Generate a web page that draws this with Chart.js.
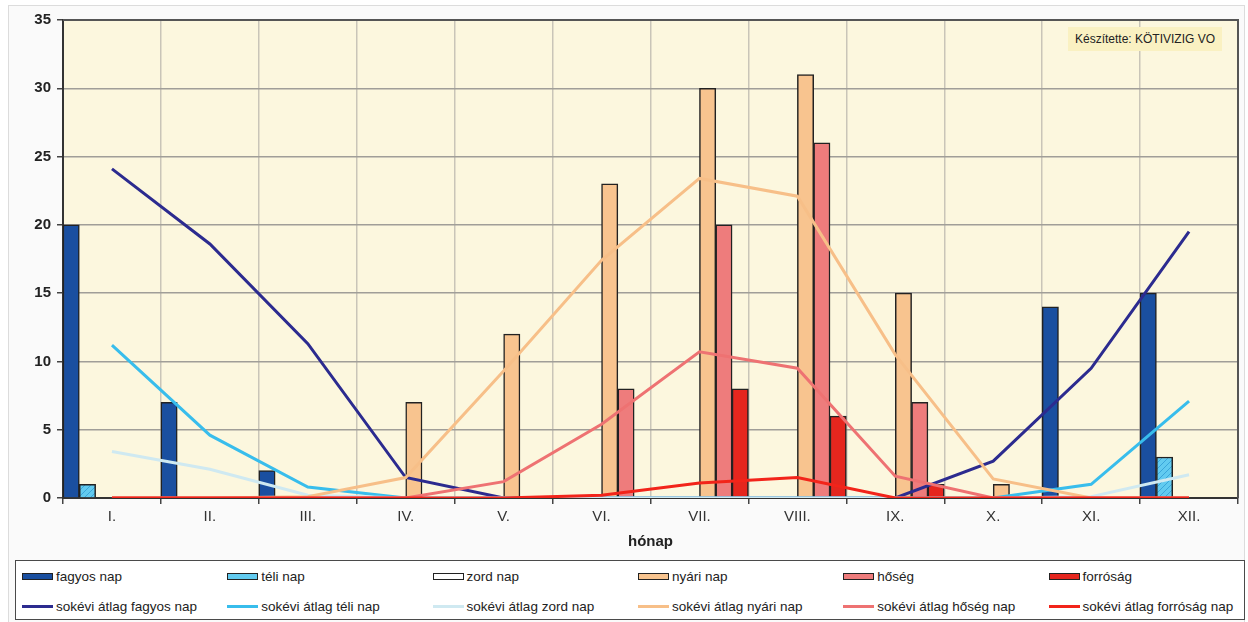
<!DOCTYPE html>
<html lang="hu">
<head>
<meta charset="utf-8">
<title>Fagyos és nyári napok</title>
<script src="https://cdn.jsdelivr.net/npm/chart.js@4"></script>
<style>
  html, body { margin: 0; padding: 0; background: #fff; }
  body { width: 1248px; height: 622px; position: relative; overflow: hidden;
         font-family: 'Liberation Sans', Arial, sans-serif; }
  #frame { position: absolute; left: 8px; top: 5px; width: 1235px; height: 630px;
           border: 1px solid #dcdcdc; background: #fafafa; }
  #wrap { position: absolute; left: 0; top: 0; width: 1248px; height: 560px; }
  #credit { position: absolute; left: 1068px; top: 27px; width: 154px; height: 24px;
            background: #faf1c2; font-size: 12px; color: #222; line-height: 24px;
            text-align: center; }
  #legend { position: absolute; left: 15px; top: 560px; width: 1228px; height: 58px;
            border: 1.5px solid #4a4a4a; background: #fff; }
  .item { position: absolute; display: flex; align-items: center; font-size: 13.5px;
          color: #222; white-space: nowrap; }
  .sw { width: 31px; margin-right: 3px; box-sizing: border-box; }
</style>
</head>
<body>
<div id="frame"></div>
<div id="wrap"><canvas id="chart" width="1248" height="560"></canvas></div>
<div id="credit">Készítette: KÖTIVIZIG VO</div>
<div id="legend"></div>

<script>
(function () {
  'use strict';

  /* ---------- Data ---------- */
  const months = ['I.', 'II.', 'III.', 'IV.', 'V.', 'VI.', 'VII.', 'VIII.', 'IX.', 'X.', 'XI.', 'XII.'];

  const fagyosNap = [20, 7, 2, 0, 0, 0, 0, 0, 0, 0, 14, 15];
  const teliNap   = [1, 0, 0, 0, 0, 0, 0, 0, 0, 0, 0, 3];
  const zordNap   = [0, 0, 0, 0, 0, 0, 0, 0, 0, 0, 0, 0];
  const nyariNap  = [0, 0, 0, 7, 12, 23, 30, 31, 15, 1, 0, 0];
  const hoseg     = [0, 0, 0, 0, 0, 8, 20, 26, 7, 0, 0, 0];
  const forrosag  = [0, 0, 0, 0, 0, 0, 8, 6, 1, 0, 0, 0];

  const atlagFagyos   = [24.1, 18.6, 11.3, 1.5, 0, 0, 0, 0, 0, 2.7, 9.5, 19.5];
  const atlagTeli     = [11.2, 4.6, 0.8, 0, 0, 0, 0, 0, 0, 0, 1.0, 7.1];
  const atlagZord     = [3.4, 2.1, 0.2, 0, 0, 0, 0, 0, 0, 0, 0.1, 1.7];
  const atlagNyari    = [0, 0, 0.1, 1.5, 9.3, 17.4, 23.4, 22.1, 10.5, 1.4, 0, 0];
  const atlagHoseg    = [0, 0, 0, 0, 1.2, 5.4, 10.7, 9.5, 1.6, 0, 0, 0];
  const atlagForrosag = [0, 0, 0, 0, 0, 0.2, 1.1, 1.5, 0, 0, 0, 0];

  const yTicks = [0, 5, 10, 15, 20, 25, 30, 35];

  /* ---------- Hatch for téli nap ---------- */
  function hatch() {
    const c = document.createElement('canvas');
    c.width = 6; c.height = 6;
    const g = c.getContext('2d');
    g.fillStyle = '#62cbf0';
    g.fillRect(0, 0, 6, 6);
    g.strokeStyle = '#3aa6da';
    g.lineWidth = 1;
    g.beginPath();
    g.moveTo(0, 6); g.lineTo(6, 0);
    g.moveTo(-1, 1); g.lineTo(1, -1);
    g.moveTo(5, 7); g.lineTo(7, 5);
    g.stroke();
    return g.createPattern(c, 'repeat');
  }

  const bar = (label, data, color, swatch) => ({
    type: 'bar', label, data, backgroundColor: color, swatch: swatch || color,
    borderColor: '#222', borderWidth: 1.5, borderSkipped: 'bottom', order: 20,
    categoryPercentage: 1, barPercentage: 1,
  });
  const line = (label, data, color, order) => ({
    type: 'line', label, data, borderColor: color, backgroundColor: color,
    borderWidth: 3, pointRadius: 0, tension: 0, fill: false, order,
  });

  const datasets = [
    bar('fagyos nap', fagyosNap, '#1a4fa0'),
    bar('téli nap', teliNap, hatch(), '#62cbf0'),
    bar('zord nap', zordNap, '#ffffff'),
    bar('nyári nap', nyariNap, '#f8c48f'),
    bar('hőség', hoseg, '#ee7c7c'),
    bar('forróság', forrosag, '#e5261e'),
    line('sokévi átlag fagyos nap', atlagFagyos, '#2c2b8f', 6),
    line('sokévi átlag téli nap', atlagTeli, '#38bdec', 5),
    line('sokévi átlag zord nap', atlagZord, '#cfe9f1', 4),
    line('sokévi átlag nyári nap', atlagNyari, '#f7bf88', 3),
    line('sokévi átlag hőség nap', atlagHoseg, '#ee7272', 2),
    line('sokévi átlag forróság nap', atlagForrosag, '#f2241a', 1),
  ];

  /* ---------- Plot frame: background + top/right border ---------- */
  const plotFrame = {
    id: 'plotFrame',
    beforeDraw(chart) {
      const { ctx, chartArea: a } = chart;
      ctx.save();
      ctx.fillStyle = '#fcf7de';
      ctx.fillRect(a.left, a.top, a.right - a.left, a.bottom - a.top);
      ctx.restore();
    },
    afterDraw(chart) {
      const { ctx, chartArea: a } = chart;
      ctx.save();
      ctx.strokeStyle = '#555';
      ctx.lineWidth = 2;
      ctx.beginPath();
      ctx.moveTo(a.left, a.top);
      ctx.lineTo(a.right, a.top);
      ctx.lineTo(a.right, a.bottom);
      ctx.stroke();
      ctx.restore();
    },
  };

  const chart = new Chart(document.getElementById('chart'), {
    data: { labels: months, datasets },
    plugins: [plotFrame],
    options: {
      responsive: false,
      animation: false,
      layout: { padding: { left: 8, right: 10, top: 20, bottom: 0 } },
      plugins: { legend: { display: false }, tooltip: { enabled: false } },
      scales: {
        x: {
          grid: { color: '#c9c5b8', lineWidth: 1.5, tickColor: '#444', tickLength: 6, offset: true },
          border: { color: '#333', width: 2 },
          ticks: { color: '#333', font: { family: 'Liberation Sans', size: 15 }, padding: 4 },
          title: {
            display: true, text: 'hónap', color: '#222',
            font: { family: 'Liberation Sans', size: 15, weight: 'bold' },
            padding: { top: 6, bottom: 9 },
          },
          afterFit: (s) => { s.height = 62; },
        },
        y: {
          min: 0, max: 35,
          afterBuildTicks: (s) => { s.ticks = yTicks.map((v) => ({ value: v })); },
          grid: { color: '#a09e98', lineWidth: 1.5, tickColor: '#444', tickLength: 6 },
          border: { color: '#333', width: 2 },
          ticks: { color: '#222', font: { family: 'Liberation Sans', size: 15, weight: 'bold' }, padding: 6 },
          afterFit: (s) => { s.width = 55; },
        },
      },
    },
  });

  /* ---------- HTML legend ---------- */
  const legend = document.getElementById('legend');
  chart.data.datasets.forEach((ds, i) => {
    const col = i % 6;
    const row = Math.floor(i / 6);
    const el = document.createElement('div');
    el.className = 'item';
    el.style.left = (6 + col * 205.3) + 'px';
    el.style.top = (6 + row * 30) + 'px';
    el.style.height = '18px';
    const sw = document.createElement('span');
    sw.className = 'sw';
    if (ds.type === 'bar') {
      sw.style.height = '7px';
      sw.style.background = ds.swatch;
      sw.style.border = '1.5px solid #222';
    } else {
      sw.style.height = '3px';
      sw.style.background = ds.borderColor;
    }
    el.appendChild(sw);
    el.appendChild(document.createTextNode(ds.label));
    legend.appendChild(el);
  });
})();
</script>
</body>
</html>
